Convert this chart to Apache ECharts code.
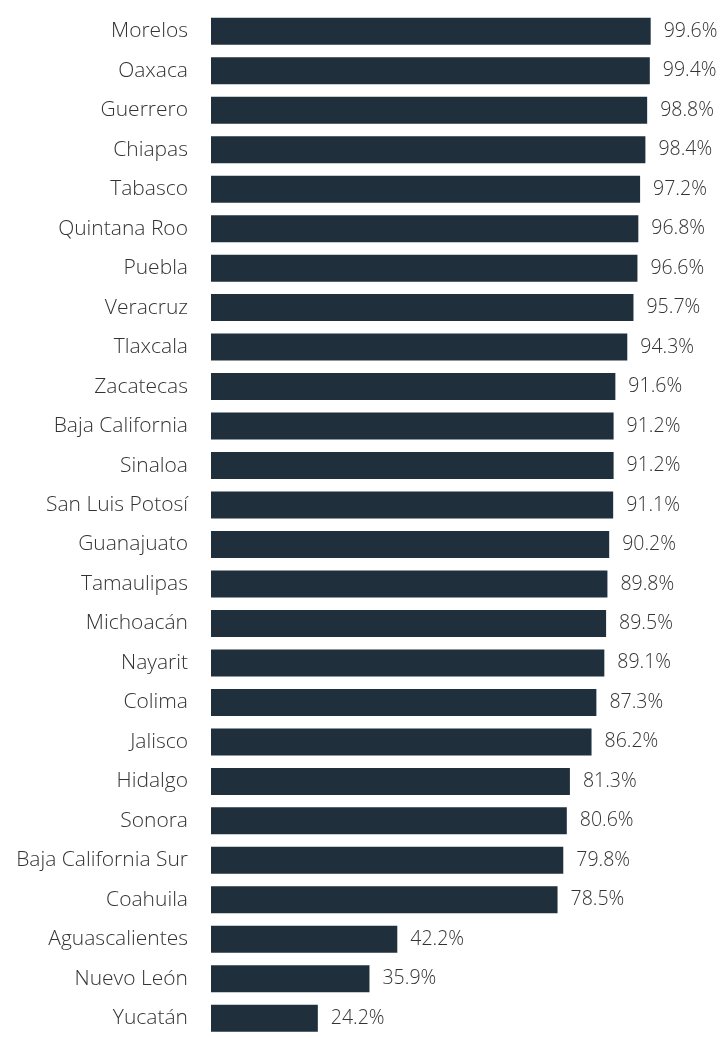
<!DOCTYPE html>
<html>
<head>
<meta charset="utf-8">
<script src="https://cdn.jsdelivr.net/npm/echarts@6/dist/echarts.min.js"></script>
<style>
  * { margin: 0; padding: 0; }
  html, body { background: #ffffff; }
  #chart { width: 728px; height: 1038px; }
</style>
</head>
<body>
<div id="chart"></div>
<script>
  // estados, de arriba hacia abajo
  const estados = [
    'Morelos', 'Oaxaca', 'Guerrero', 'Chiapas', 'Tabasco', 'Quintana Roo',
    'Puebla', 'Veracruz', 'Tlaxcala', 'Zacatecas', 'Baja California', 'Sinaloa',
    'San Luis Potosí', 'Guanajuato', 'Tamaulipas', 'Michoacán', 'Nayarit', 'Colima',
    'Jalisco', 'Hidalgo', 'Sonora', 'Baja California Sur', 'Coahuila',
    'Aguascalientes', 'Nuevo León', 'Yucatán'
  ];
  // porcentaje
  const porcentajes = [
    99.6, 99.4, 98.8, 98.4, 97.2, 96.8,
    96.6, 95.7, 94.3, 91.6, 91.2, 91.2,
    91.1, 90.2, 89.8, 89.5, 89.1, 87.3,
    86.2, 81.3, 80.6, 79.8, 78.5,
    42.2, 35.9, 24.2
  ];

  const barColor = '#1f303c';
  const textColor = '#333333';
  const fontFamily = '"Open Sans", Lato, sans-serif';

  let myChart = echarts.init(document.getElementById('chart'));
  let option = {
    animation: false,
    grid: {
      left: 211,
      top: 11.5,
      width: 485.6,   // 110 unidades
      height: 1040
    },
    xAxis: {
      type: 'value',
      min: 0,
      max: 110,
      show: false
    },
    yAxis: {
      type: 'category',
      inverse: true,
      data: estados,
      axisLine: { show: false },
      axisTick: { show: false },
      axisLabel: {
        margin: 23,
        color: textColor,
        fontSize: 21,
        fontWeight: 300,
        fontFamily: fontFamily
      }
    },
    series: [
      {
        type: 'bar',
        data: porcentajes,
        barWidth: 27,
        itemStyle: { color: barColor },
        label: {
          show: true,
          position: 'right',
          distance: 13,
          color: textColor,
          fontSize: 19.5,
          fontWeight: 300,
          fontFamily: fontFamily,
          formatter: function (p) {
            return p.value.toFixed(1) + '%';
          }
        }
      }
    ]
  };
  myChart.setOption(option);
</script>
</body>
</html>
